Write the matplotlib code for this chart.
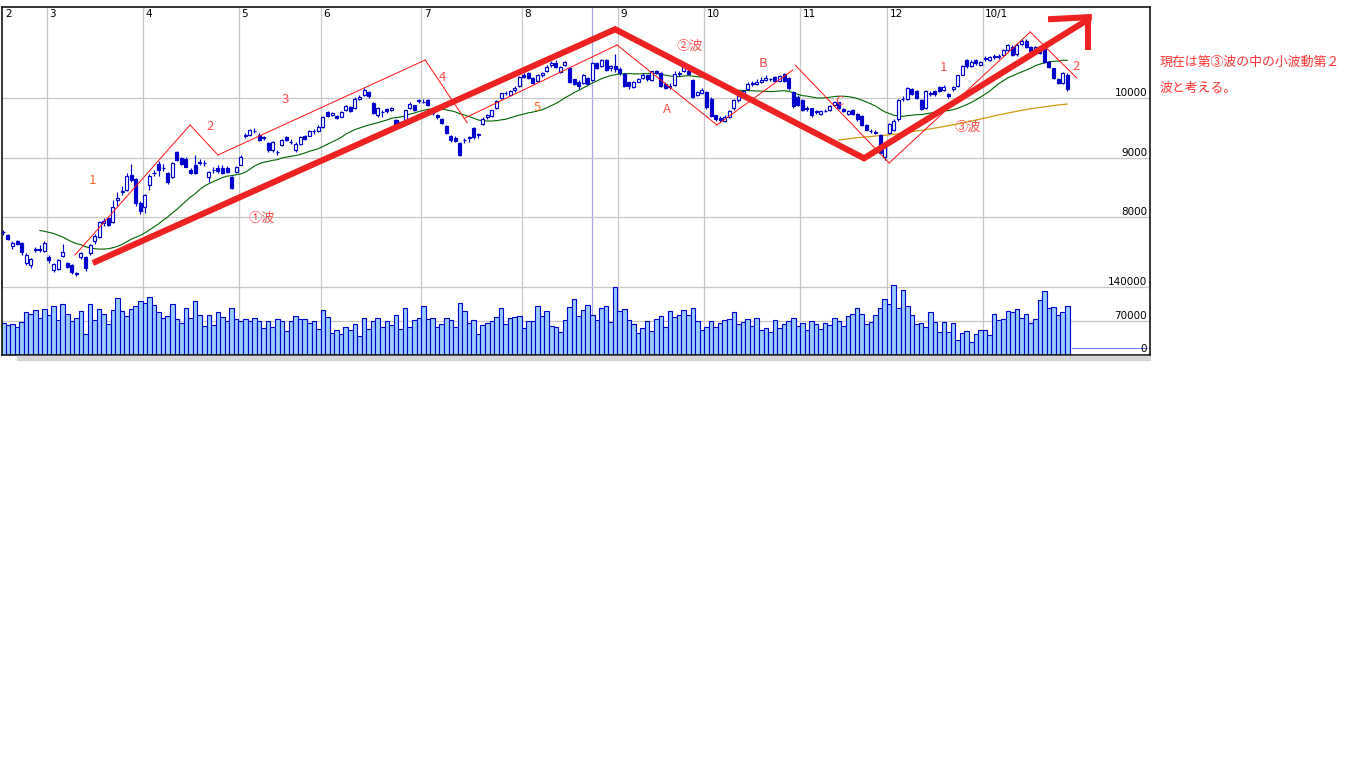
""" Nikkei 225 daily candles Feb 2009 - Jan 2010 with Elliott wave notes """

import matplotlib
matplotlib.use("Agg")
import matplotlib.pyplot as plt
from matplotlib.patches import Rectangle
import numpy as np
import pandas as pd

plt.rcParams['font.family'] = ['Noto Sans CJK JP', 'DejaVu Sans']

###############################################################################
# data (one row per month: Feb 2009 ... Jan 2010)
###############################################################################
month_labels = ["3", "4", "5", "6", "7", "8", "9", "10", "11", "12", "10/1"]
month_start = [10, 31, 52, 70, 92, 114, 135, 154, 175, 194, 215]

# closes of the 16 sessions before the first candle (needed for the averages)
prior_closes = [7901, 7745, 7682, 8061, 8106, 8251, 7994, 7873,
                7825, 8038, 7950, 8076, 8076, 7945, 7705, 7779]

opens = (
    [7760, 7700, 7520, 7600, 7570, 7230, 7200, 7470, 7480, 7440]
    + [7340, 7120, 7140, 7360, 7230, 7200, 7070, 7330, 7340, 7410, 7600,
       7680, 7900, 7990, 7920, 8300, 8420, 8460, 8710, 8650, 8250]
    + [8180, 8550, 8740, 8900, 8830, 8750, 8680, 9100, 8990, 8980, 8800,
       8880, 8920, 8910, 8680, 8790, 8830, 8830, 8830, 8680, 8760]
    + [8880, 9370, 9380, 9450, 9380, 9330, 9250, 9130, 9090, 9210, 9350,
       9270, 9130, 9230, 9360, 9370, 9440, 9450]
    + [9520, 9760, 9720, 9700, 9690, 9800, 9850, 9830, 9990, 10050, 10100,
       9920, 9720, 9770, 9810, 9800, 9630, 9600, 9630, 9840, 9880, 9950]
    + [9940, 9960, 9760, 9715, 9640, 9530, 9360, 9330, 9250, 9290, 9330,
       9500, 9380, 9570, 9680, 9700, 9830, 10000, 10080, 10050, 10130, 10200]
    + [10380, 10420, 10330, 10280, 10380, 10450, 10560, 10580, 10430, 10560,
       10500, 10310, 10270, 10250, 10330, 10300, 10580, 10530, 10640, 10500,
       10540]
    + [10480, 10400, 10260, 10190, 10270, 10330, 10380, 10300, 10450, 10420,
       10230, 10190, 10220, 10400, 10450, 10450, 10300, 10050, 10080]
    + [10100, 9990, 9715, 9660, 9610, 9680, 9830, 9960, 10040, 10150, 10240,
       10230, 10270, 10300, 10320, 10350, 10290, 10400, 10330, 10100, 10017]
    + [9960, 9840, 9830, 9760, 9740, 9780, 9800, 9880, 9930, 9820, 9740,
       9800, 9730, 9700, 9550, 9450, 9430, 9380, 9020]
    + [9420, 9470, 9640, 9980, 9980, 10150, 10120, 9960, 9830, 10060, 10110,
       10190, 10130, 10060, 10150, 10200, 10390, 10640, 10530, 10640, 10560]
    + [10660, 10640, 10690, 10700, 10720, 10800, 10860, 10730, 10900, 10960,
       10850, 10770, 10830, 10850, 10600, 10500, 10320, 10250, 10380]
)

highs = (
    [7790, 7720, 7600, 7620, 7590, 7400, 7320, 7500, 7540, 7600]
    + [7380, 7240, 7300, 7560, 7260, 7220, 7090, 7430, 7350, 7560, 7720,
       7940, 7990, 8010, 8300, 8430, 8520, 8740, 8900, 8660, 8280]
    + [8400, 8730, 8800, 8940, 8900, 8760, 8930, 9110, 9010, 9020, 8830,
       9050, 8980, 8960, 8780, 8840, 8880, 8870, 8860, 8700, 8860]
    + [9040, 9420, 9480, 9500, 9420, 9360, 9260, 9280, 9130, 9310, 9370,
       9320, 9260, 9360, 9380, 9470, 9480, 9550]
    + [9700, 9780, 9760, 9720, 9790, 9880, 9870, 10010, 10050, 10170, 10110,
       9940, 9850, 9800, 9830, 9850, 9650, 9620, 9800, 9930, 9890, 9990]
    + [9990, 9980, 9790, 9730, 9660, 9540, 9380, 9360, 9260, 9330, 9360,
       9520, 9420, 9680, 9740, 9800, 9960, 10090, 10120, 10130, 10200, 10370]
    + [10420, 10440, 10350, 10400, 10430, 10560, 10620, 10640, 10540, 10620,
       10510, 10320, 10300, 10400, 10350, 10600, 10600, 10660, 10650, 10560,
       10740]
    + [10520, 10420, 10270, 10280, 10340, 10420, 10390, 10460, 10470, 10430,
       10260, 10250, 10450, 10450, 10560, 10480, 10310, 10120, 10160]
    + [10110, 10010, 9720, 9700, 9720, 9800, 9980, 10060, 10130, 10260, 10280,
       10320, 10350, 10380, 10340, 10370, 10380, 10420, 10350, 10110, 10050]
    + [9990, 9860, 9840, 9800, 9800, 9820, 9890, 9950, 9940, 9830, 9800,
       9820, 9750, 9710, 9560, 9480, 9460, 9390, 9190]
    + [9580, 9650, 9990, 10030, 10180, 10170, 10130, 9980, 10130, 10110, 10130,
       10200, 10220, 10090, 10200, 10390, 10560, 10660, 10640, 10660, 10620]
    + [10700, 10700, 10730, 10740, 10820, 10900, 10880, 10920, 10980, 10990,
       10870, 10870, 10850, 10870, 10620, 10510, 10340, 10440, 10420]
)

lows = (
    [7700, 7620, 7480, 7540, 7380, 7200, 7160, 7420, 7420, 7420]
    + [7230, 7090, 7120, 7330, 7150, 7060, 7020, 7300, 7100, 7370, 7560,
       7660, 7860, 7850, 7900, 8200, 8380, 8440, 8600, 8200, 8050]
    + [8080, 8460, 8700, 8700, 8780, 8560, 8660, 8940, 8880, 8840, 8720,
       8730, 8880, 8860, 8600, 8740, 8740, 8720, 8740, 8480, 8740]
    + [8870, 9330, 9360, 9420, 9280, 9300, 9100, 9100, 9040, 9200, 9280,
       9230, 9100, 9220, 9290, 9360, 9400, 9430]
    + [9500, 9680, 9700, 9640, 9680, 9790, 9760, 9810, 9960, 10030, 10000,
       9740, 9690, 9690, 9750, 9780, 9540, 9530, 9620, 9820, 9780, 9920]
    + [9910, 9860, 9720, 9650, 9560, 9400, 9270, 9260, 9030, 9250, 9270,
       9320, 9330, 9540, 9640, 9680, 9820, 9980, 10050, 10030, 10100, 10190]
    + [10330, 10320, 10230, 10260, 10350, 10440, 10520, 10500, 10420, 10540,
       10250, 10220, 10150, 10230, 10230, 10290, 10480, 10520, 10460, 10460,
       10440]
    + [10390, 10180, 10150, 10170, 10260, 10310, 10290, 10290, 10400, 10180,
       10150, 10150, 10200, 10360, 10440, 10380, 10000, 10030, 10060]
    + [9820, 9680, 9620, 9600, 9590, 9660, 9800, 9940, 10020, 10130, 10200,
       10210, 10250, 10290, 10280, 10260, 10280, 10270, 10140, 9840, 9870]
    + [9790, 9780, 9680, 9730, 9720, 9760, 9790, 9870, 9810, 9760, 9720,
       9720, 9620, 9530, 9460, 9410, 9400, 9076, 8970]
    + [9400, 9450, 9620, 9950, 9960, 10050, 9990, 9800, 9810, 10030, 10040,
       10100, 10110, 10000, 10120, 10190, 10380, 10510, 10520, 10560, 10540]
    + [10620, 10620, 10660, 10650, 10700, 10790, 10700, 10710, 10890, 10840,
       10760, 10750, 10740, 10590, 10500, 10320, 10230, 10230, 10120]
)

closes = (
    [7750, 7645, 7580, 7557, 7416, 7376, 7300, 7461, 7457, 7568]
    + [7280, 7229, 7290, 7420, 7173, 7086, 7054, 7400, 7150, 7540, 7690,
       7920, 7940, 7880, 8180, 8320, 8450, 8700, 8626, 8236, 8109]
    + [8380, 8700, 8750, 8800, 8832, 8595, 8916, 8964, 8900, 8850, 8742,
       8740, 8930, 8915, 8765, 8800, 8770, 8750, 8760, 8500, 8850]
    + [9015, 9385, 9460, 9452, 9298, 9340, 9130, 9265, 9100, 9291, 9300,
       9264, 9225, 9347, 9310, 9451, 9451, 9522]
    + [9677, 9704, 9741, 9668, 9768, 9865, 9787, 9991, 10010, 10135, 10039,
       9752, 9840, 9760, 9786, 9826, 9549, 9560, 9796, 9900, 9800, 9958]
    + [9939, 9876, 9749, 9680, 9580, 9420, 9291, 9287, 9050, 9300, 9340,
       9344, 9395, 9652, 9723, 9792, 9944, 10088, 10087, 10113, 10165, 10357]
    + [10352, 10330, 10252, 10388, 10412, 10524, 10585, 10520, 10517, 10597,
       10268, 10240, 10204, 10383, 10238, 10581, 10497, 10639, 10473, 10534,
       10492]
    + [10420, 10200, 10200, 10260, 10320, 10393, 10312, 10445, 10420, 10202,
       10170, 10200, 10400, 10420, 10544, 10400, 10020, 10100, 10133]
    + [9850, 9700, 9640, 9630, 9690, 9780, 9960, 10030, 10110, 10238, 10250,
       10260, 10300, 10336, 10310, 10282, 10360, 10290, 10160, 9860, 9890]
    + [9802, 9820, 9717, 9789, 9780, 9790, 9870, 9930, 9830, 9780, 9780,
       9740, 9650, 9550, 9470, 9440, 9420, 9081, 9180]
    + [9560, 9620, 9970, 9990, 10160, 10070, 10000, 9820, 10110, 10090, 10060,
       10120, 10190, 10040, 10183, 10378, 10536, 10530, 10610, 10580, 10600]
    + [10670, 10680, 10700, 10690, 10800, 10880, 10720, 10890, 10960, 10860,
       10780, 10850, 10760, 10610, 10520, 10340, 10250, 10410, 10150]
)

volumes = [
    66500, 61000, 64000, 57000, 68600, 87500, 85000, 92000, 77000, 94000,
    83000, 100000, 73000, 106000, 85000, 69000, 77000, 90000, 43000, 104000,
    73000, 94000, 85000, 64000, 92000, 117000, 90000, 81000, 94000, 100000,
    111000, 108000, 119000, 102000, 87500, 77000, 81000, 104000, 75000, 66500,
    96000, 77000, 111000, 83000, 60000, 83000, 62000, 87500, 79000, 71000,
    96000, 75000, 71000, 75000, 71000, 77000, 69000, 56000, 71000, 58000,
    75000, 69000, 50000, 69000, 81000, 75000, 75000, 66500, 69000, 54000,
    92000, 79000, 45500, 52000, 43000, 58000, 52000, 64000, 39000, 77000,
    54000, 71000, 77000, 58000, 69000, 62000, 83000, 54000, 96000, 58000,
    73000, 77000, 100000, 75000, 77000, 58000, 64000, 77000, 73000, 58000,
    108000, 90000, 66500, 73000, 43000, 62000, 66500, 71000, 79000, 96000,
    64000, 77000, 79000, 81000, 56000, 69000, 69000, 100000, 81000, 90000,
    60000, 58000, 47600, 73000, 98000, 115000, 81000, 92000, 102000, 83000,
    73000, 96000,
    100000, 68600, 140000, 89600, 93800, 72800, 64400, 45500, 56000, 70700,
    49700, 74900, 81200, 58100, 89600, 79100, 83300, 91700, 83300, 95900,
    70700, 51800, 58100, 70700, 58100, 66500, 72800, 74900, 87500, 64400,
    68600, 74900, 60200, 77000, 51800, 56000, 47600, 72800,
    56000, 64400, 70700, 77000, 60200, 66500, 51800, 70700, 64400,
    53900, 66500, 62300, 77000, 70700, 60200, 81200, 85400, 95900, 85400,
    64400, 68600, 83300, 95900, 114800, 104300, 144200, 95900, 133700, 100000,
    83300, 64400, 66500, 58100, 87500, 68600, 47600, 68600, 47600, 66500,
    30800, 45500, 49700, 26600, 43400, 51800, 51800, 41300, 85400, 72800,
    74900, 89600, 87500, 93800, 77000, 85400, 66500, 74900, 112700,
    131600, 95900, 98000, 83300, 87500, 100000,
]

# hand drawn wave marks, in (session index, price)
big_wave_x = [19.6, 134.0, 188.5, 238.0]
big_wave_y = [7238, 11150, 8991, 11334]
arrow_h_x, arrow_h_y = [228.8, 238.4], [11317, 11356]
arrow_v_x, arrow_v_y = [237.6, 237.6], [11356, 10804]

small_waves = [  # (x0, y0, x1, y1)
    (15.7, 7372, 40.9, 9548), (40.9, 9548, 47.0, 9046),
    (47.0, 9046, 92.4, 10636), (92.4, 10636, 101.6, 9582),
    (101.1, 9665, 134.4, 10887), (134.4, 10887, 156.3, 9548),
    (156.3, 9548, 172.9, 10469), (173.4, 10552, 194.0, 8912),
    (194.0, 8912, 224.9, 11105), (224.9, 11105, 235.1, 10335),
]

wave_labels = [  # (x, price, text, colour)
    (19.6, 8627, "1", "#ff6a30"), (45.3, 9515, "2", "#ff4d4d"),
    (61.7, 9967, "3", "#ff4d4d"), (96.1, 10335, "4", "#ff4d4d"),
    (116.9, 9833, "5", "#ff6a30"), (145.3, 9799, "A", "#ff4d4d"),
    (166.4, 10569, "B", "#ff4d4d"), (183.2, 9933, "C", "#ff4d4d"),
    (206.0, 10502, "1", "#ff4d4d"), (234.9, 10519, "2", "#ff4d4d"),
    (56.6, 7991, "①波", "#ff4d4d"), (150.4, 10870, "②波", "#ff4d4d"),
    (211.3, 9515, "③波", "#ff4d4d"),
]

###############################################################################
# prepare
###############################################################################
o = np.array(opens, dtype=float)
h = np.array(highs, dtype=float)
lo = np.array(lows, dtype=float)
c = np.array(closes, dtype=float)
x = np.arange(len(c))

all_close = pd.Series(prior_closes + closes, dtype=float)
n_prior = len(prior_closes)
ma25 = all_close.rolling(25).mean().iloc[n_prior:].to_numpy()
ma200 = all_close.rolling(200).mean().iloc[n_prior:].to_numpy()

BLUE = "#0000cc"
GRID = "#c8c8c8"
W, H = 1366, 768
xlim = (-0.29, 251.13)

###############################################################################
# figure
###############################################################################
fig = plt.figure(figsize=(W / 100, H / 100), dpi=100)
ax = fig.add_axes([2 / W, 1 - 283 / H, 1148 / W, 276 / H])
axv = fig.add_axes([2 / W, 1 - 355 / H, 1148 / W, 72 / H])

for a in (ax, axv):
    a.set_xlim(*xlim)
    a.set_xticks([])
    a.set_yticks([])
    for s in a.spines.values():
        s.set_color("black")
        s.set_linewidth(1.1)
    for m in month_start:
        a.axvline(m - 0.44, color=GRID, lw=0.9, zorder=0)
    a.axvline(129, color="#a8a8e8", lw=0.9, zorder=0)

ax.spines['bottom'].set_visible(False)
axv.spines['top'].set_visible(False)
ax.set_ylim(6903, 11523)
axv.set_ylim(0, 148200)

# price grid and labels
for p in (8000, 9000, 10000):
    ax.axhline(p, color=GRID, lw=0.9, zorder=0)
    ax.text(250.5, p, str(p), ha='right', va='bottom', fontsize=7.5,
            family='DejaVu Sans', color='black')
for v in (70000, 140000):
    axv.axhline(v, color=GRID, lw=0.9, zorder=0)
    axv.text(250.5, v, str(v), ha='right', va='bottom', fontsize=7.5,
             family='DejaVu Sans', color='black')
axv.text(250.5, 3000, "0", ha='right', va='bottom', fontsize=7.5,
         family='DejaVu Sans', color='black')

# month labels along the top
tr = ax.get_xaxis_transform()
ax.text(0.4, 0.992, "2", transform=tr, ha='left', va='top', fontsize=7.5,
        family='DejaVu Sans')
for m, lab in zip(month_start, month_labels):
    ax.text(m + 0.05, 0.992, lab, transform=tr, ha='left', va='top',
            fontsize=7.5, family='DejaVu Sans')

# moving averages
ax.plot(x, ma25, color="#006400", lw=0.8, zorder=2)
ax.plot(x, ma200, color="#d09a10", lw=0.9, zorder=2)

# candles
up = c >= o
ax.vlines(x, lo, h, color=BLUE, lw=0.85, zorder=3)
body_lo = np.minimum(o, c)
body_h = np.maximum(np.abs(c - o), 1)
ax.bar(x, body_h, bottom=body_lo, width=0.66,
       color=np.where(up, "white", BLUE), edgecolor=BLUE, lw=0.85, zorder=3.1)

# volume
axv.bar(x, volumes, width=1.0, color="#99ccff", edgecolor=BLUE, lw=0.8,
        zorder=2)
axv.plot([234, 250.5], [14000, 14000], color="#7878ff", lw=0.8, zorder=2)

# wave marks
for x0, y0, x1, y1 in small_waves:
    ax.plot([x0, x1], [y0, y1], color="#ff1010", lw=0.7, zorder=4)
ax.plot(big_wave_x, big_wave_y, color="#ee2222", lw=4.4,
        solid_joinstyle='miter', solid_capstyle='butt', zorder=5,
        clip_on=False)
ax.plot(arrow_h_x, arrow_h_y, color="#ee2222", lw=4.4, zorder=5,
        solid_capstyle='butt', clip_on=False)
ax.plot(arrow_v_x, arrow_v_y, color="#ee2222", lw=4.4, zorder=5,
        solid_capstyle='butt', clip_on=False)

for lx, ly, txt, col in wave_labels:
    ax.text(lx, ly, txt, ha='center', va='center', fontsize=9.5, color=col,
            zorder=6)

# note on the right
fig.text(1160 / W, 1 - 62 / H, "現在は第③波の中の小波動第２", ha='left',
         va='center', fontsize=9.3, color="#ff3333")
fig.text(1160 / W, 1 - 88 / H, "波と考える。", ha='left', va='center',
         fontsize=9.3, color="#ff3333")

# scroll strip under the chart
fig.patches.append(Rectangle((17 / W, 1 - 360 / H), 1133 / W, 4 / H,
                             transform=fig.transFigure, color="#d6d6d6",
                             zorder=0))

fig.savefig("out.png", dpi=100)
